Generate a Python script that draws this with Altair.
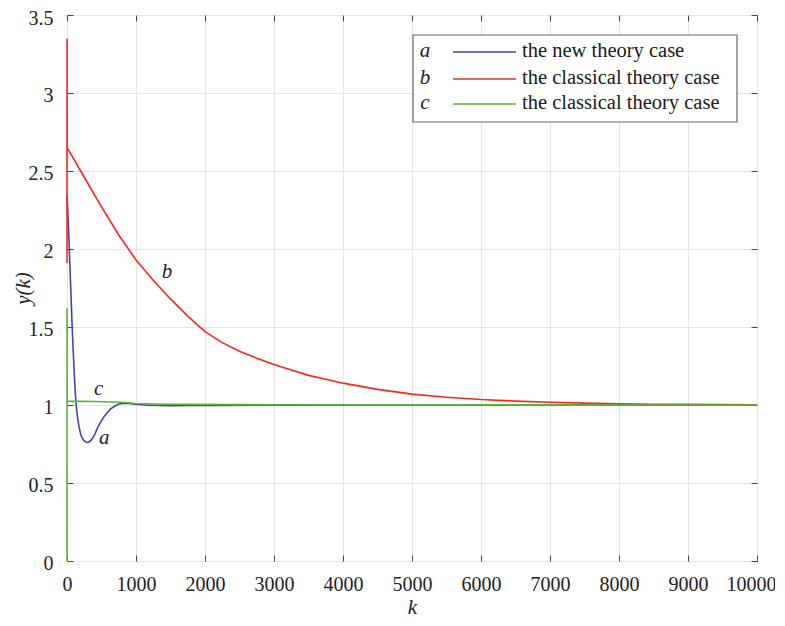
import altair as alt
import pandas as pd

# ---- data ----
k_a = [0, 25, 50, 75, 100, 125, 150, 200, 250, 300, 350, 400, 450, 500, 600, 700, 800, 900, 1000, 1200, 1500, 2000, 3000, 5000, 10000]
y_a = [2.35, 2.1, 1.8, 1.5, 1.25, 1.05, 0.93, 0.81, 0.77, 0.76, 0.775, 0.81, 0.86, 0.9, 0.96, 0.995, 1.01, 1.01, 1.005, 0.998, 0.996, 0.997, 0.999, 1.0, 1.0]

k_b = [0, 1, 2, 250, 500, 750, 1000, 1250, 1500, 1750, 2000, 2250, 2500, 2750, 3000, 3250, 3500, 3750, 4000, 4500, 5000, 5500, 6000, 6500, 7000, 7500, 8000, 8500, 9000, 9500, 10000]
y_b = [1.91, 3.35, 2.65, 2.46, 2.27, 2.09, 1.93, 1.80, 1.68, 1.57, 1.47, 1.40, 1.345, 1.30, 1.26, 1.225, 1.19, 1.165, 1.14, 1.10, 1.07, 1.05, 1.035, 1.025, 1.018, 1.012, 1.008, 1.005, 1.004, 1.003, 1.002]

k_c = [0, 1, 2, 400, 800, 1000, 1500, 3000, 10000]
y_c = [0.0, 1.62, 1.025, 1.022, 1.018, 1.01, 1.005, 1.002, 1.0]

series_keys = ["a", "b", "c"]
series_colors = ["#4646a0", "#f8261e", "#5cb534"]
legend_labels = ["the new theory case", "the classical theory case", "the classical theory case"]

x_ticks = [0, 1000, 2000, 3000, 4000, 5000, 6000, 7000, 8000, 9000, 10000]
y_ticks = [0, 0.5, 1, 1.5, 2, 2.5, 3, 3.5]

ann_letters = ["a", "b", "c"]
ann_k = [540, 1450, 460]
ann_y = [0.79, 1.85, 1.10]

FONT = "Liberation Serif"
W, H = 690, 546

def frame(key, ks, ys):
    return pd.DataFrame({"k": ks, "y": ys, "s": key, "o": list(range(len(ks)))})

df_a = frame("a", k_a, y_a)
df_bc = pd.concat([frame("b", k_b, y_b), frame("c", k_c, y_c)], ignore_index=True)

xscale = alt.Scale(domain=[0, 10000], nice=False)
yscale = alt.Scale(domain=[0, 3.5], nice=False)
cscale = alt.Scale(domain=series_keys, range=series_colors)

xaxis = alt.Axis(values=x_ticks, grid=True, gridColor="#e4e4e4", domain=False,
                 tickColor="#444", tickSize=6, offset=-6, labelPadding=13,
                 labelFont=FONT, labelFontSize=20, labelColor="#222", labelOverlap=False,
                 labelFlush=False,
                 labelOffset={"expr": "datum.value == 10000 ? -6 : 0"},
                 title="k", titleFont=FONT, titleFontStyle="italic", titleFontWeight="normal",
                 titleFontSize=21, titleColor="#222", titleY=58, titleBaseline="alphabetic",
                 format="d")
yaxis = alt.Axis(values=y_ticks, grid=True, gridColor="#e4e4e4", domain=False,
                 tickColor="#444", tickSize=6, offset=-6, labelPadding=14,
                 labelFont=FONT, labelFontSize=20, labelColor="#222", format="~g", labelOverlap=False,
                 labelFlush=False,
                 labelOffset={"expr": "datum.value == 3.5 ? 3 : 2"},
                 title="y(k)", titleFont=FONT, titleFontStyle="italic", titleFontWeight="normal",
                 titleFontSize=21, titleColor="#222", titleX=-40, titleY=H / 2, titleAngle=-90)

line_a = alt.Chart(df_a).mark_line(strokeWidth=1.6, interpolate="monotone").encode(
    x=alt.X("k:Q", scale=xscale, axis=xaxis),
    y=alt.Y("y:Q", scale=yscale, axis=yaxis),
    color=alt.Color("s:N", scale=cscale, legend=None),
    order="o:Q",
)
line_bc = alt.Chart(df_bc).mark_line(strokeWidth=1.6).encode(
    x=alt.X("k:Q", scale=xscale, axis=None),
    y=alt.Y("y:Q", scale=yscale, axis=None),
    color=alt.Color("s:N", scale=cscale, legend=None),
    order="o:Q",
    detail="s:N",
)

# top / right ticks (mirror axes, no labels)
mirror = alt.Chart(pd.DataFrame({"k": [0], "y": [0]})).mark_point(opacity=0).encode(
    x=alt.X("k:Q", scale=xscale, axis=alt.Axis(orient="top", values=x_ticks, labels=False, title=None,
                                               domain=False, grid=False, tickColor="#444", tickSize=6, offset=-6)),
    y=alt.Y("y:Q", scale=yscale, axis=alt.Axis(orient="right", values=y_ticks, labels=False, title=None,
                                               domain=False, grid=False, tickColor="#444", tickSize=6, offset=-6)),
)

ann = alt.Chart(pd.DataFrame({"t": ann_letters, "k": ann_k, "y": ann_y})).mark_text(
    font=FONT, fontSize=21, fontStyle="italic", color="#222").encode(
    x=alt.X("k:Q", scale=xscale, axis=None), y=alt.Y("y:Q", scale=yscale, axis=None), text="t:N")

# legend box (decoration, pixel positions)
box = alt.Chart(pd.DataFrame({"d": [0]})).mark_rect(fill="white", stroke="#666", strokeWidth=1.2).encode(
    x=alt.value(346), x2=alt.value(670), y=alt.value(20), y2=alt.value(107))

leg_layers = []
row_y = [37, 64, 89]
for i in range(3):
    d = pd.DataFrame({"d": [0]})
    leg_layers.append(alt.Chart(d).mark_text(font=FONT, fontSize=21, fontStyle="italic", color="#222").encode(
        x=alt.value(358), y=alt.value(row_y[i] - 1), text=alt.value(series_keys[i])))
    leg_layers.append(alt.Chart(d).mark_rule(strokeWidth=1.4, color=series_colors[i]).encode(
        x=alt.value(386), x2=alt.value(449), y=alt.value(row_y[i])))
    leg_layers.append(alt.Chart(d).mark_text(font=FONT, fontSize=20.5, color="#1a1a1a", align="left").encode(
        x=alt.value(455), y=alt.value(row_y[i] - 1), text=alt.value(legend_labels[i])))

chart = alt.layer(line_a, line_bc, mirror, ann, box, *leg_layers).resolve_axis(
    x="independent", y="independent"
).properties(
    width=W, height=H,
    autosize=alt.AutoSizeParams(type="none"),
    padding={"left": 59, "top": 7, "right": 18, "bottom": 56},
).configure_view(stroke="#444", strokeWidth=1.2).configure(background="white")

chart.save("out.html", embed_options={"renderer": "svg", "actions": False})
